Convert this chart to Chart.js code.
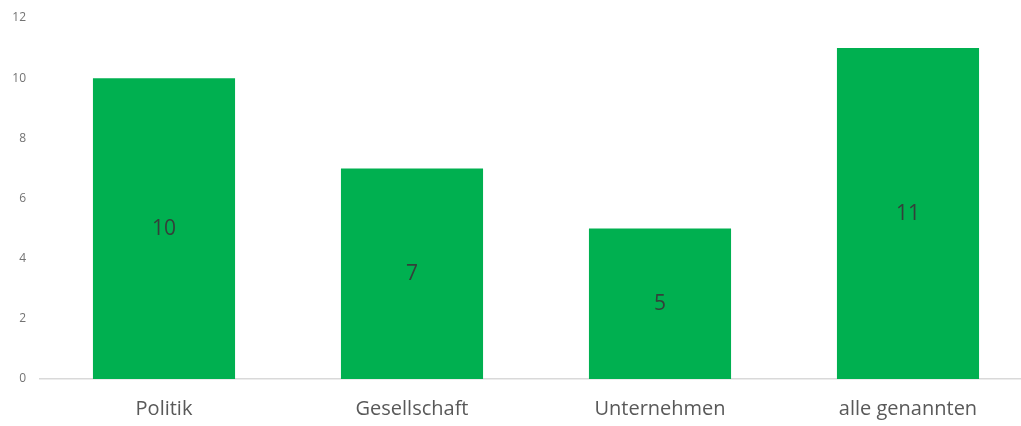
<!DOCTYPE html>
<html>
<head>
<meta charset="utf-8">
<script src="https://cdn.jsdelivr.net/npm/chart.js@4"></script>
<style>
  html, body { margin: 0; padding: 0; background: #fff; overflow: hidden; }
  #wrap { width: 1032px; height: 426px; }
</style>
</head>
<body>
<div id="wrap"><canvas id="chart"></canvas></div>
<script>
// Kategorien und Anzahl der Nennungen
const categories = ['Politik', 'Gesellschaft', 'Unternehmen', 'alle genannten'];
const counts = [10, 7, 5, 11];
const yTicks = [0, 2, 4, 6, 8, 10, 12];

// Werte mittig in die Balken schreiben
const barValueLabels = {
    id: 'barValueLabels',
    afterDatasetsDraw(chart) {
        const ctx = chart.ctx;
        const meta = chart.getDatasetMeta(0);
        ctx.save();
        ctx.font = '21px "Open Sans", sans-serif';
        ctx.fillStyle = '#33403a';
        ctx.textAlign = 'center';
        ctx.textBaseline = 'middle';
        meta.data.forEach((bar, i) => {
            const mid = (bar.y + bar.base) / 2;
            ctx.fillText(String(counts[i]), bar.x, mid);
        });
        ctx.restore();
    }
};

new Chart(document.getElementById('chart'), {
    type: 'bar',
    data: {
        labels: categories,
        datasets: [{
            data: counts,
            backgroundColor: '#00b050',
            barPercentage: 1,
            categoryPercentage: 0.573
        }]
    },
    options: {
        responsive: true,
        maintainAspectRatio: false,
        animation: false,
        layout: { padding: { top: 18, right: 0, left: 0, bottom: 0 } },
        plugins: {
            legend: { display: false },
            tooltip: { enabled: false }
        },
        scales: {
            x: {
                grid: { display: false, drawTicks: false },
                border: { display: true, color: '#d9d9d9', width: 1.5 },
                ticks: {
                    color: '#595959',
                    font: { family: '"Open Sans", sans-serif', size: 20 },
                    padding: 18
                },
                afterFit(scale) {
                    scale.height = 47;
                    scale.paddingLeft = 0;
                    scale.paddingRight = 0;
                }
            },
            y: {
                min: 0,
                max: 12,
                afterBuildTicks(scale) { scale.ticks = yTicks.map(v => ({ value: v })); },
                grid: { display: false, drawTicks: false },
                border: { display: false },
                ticks: {
                    color: '#737373',
                    font: { family: '"Open Sans", sans-serif', size: 12 },
                    padding: 14
                },
                afterFit(scale) {
                    scale.width = 40;
                    scale.paddingTop = 0;
                    scale.paddingBottom = 0;
                }
            }
        }
    },
    plugins: [barValueLabels]
});
</script>
</body>
</html>
